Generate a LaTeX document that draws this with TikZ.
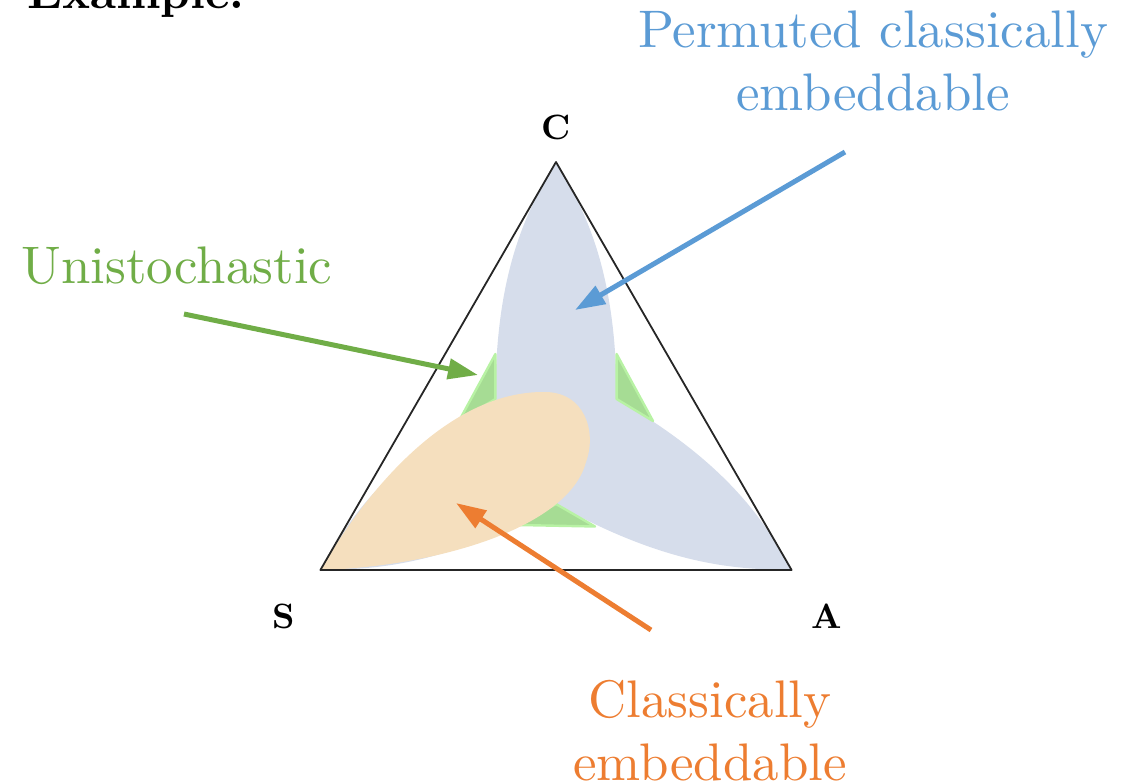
\documentclass[tikz,border=0pt]{standalone}
\usepackage{tikz}
\usetikzlibrary{arrows.meta}

\definecolor{pcblue}{RGB}{91,155,213}
\definecolor{usgreen}{RGB}{112,173,71}
\definecolor{ceorange}{RGB}{237,125,49}
\definecolor{pcfill}{RGB}{214,221,235}
\definecolor{usfill}{RGB}{166,220,148}
\definecolor{usglow}{RGB}{184,242,164}
\definecolor{cefill}{RGB}{245,223,190}

\font\lblfont="[lmroman10-regular.otf]" at 37.6pt
\font\vtxfont="[lmroman10-bold.otf]" at 25pt
\font\headfont="[lmroman10-bold.otf]" at 33pt

\tikzset{
  % --- simplex -----------------------------------------------
  simplex/.style={draw=black!85, line width=0.045cm, line join=round},
  vtx/.style={font=\vtxfont, inner sep=0pt, anchor=base},
  % --- regions -----------------------------------------------
  pcreg/.style={fill=pcfill},
  usreg/.style={fill=usfill, draw=usglow, line width=0.06cm, line join=round},
  cereg/.style={fill=cefill},
  % --- labels and pointers -----------------------------------
  setlbl/.style={font={\lblfont\baselineskip=1.55cm}, align=center,
    inner sep=0pt, anchor=base},
  setarr/.style={line width=0.125cm,
    -{Triangle[length=0.75cm, width=0.5cm]}}
}

\begin{document}
\begin{tikzpicture}[x=0.025cm, y=-0.025cm]
  \useasboundingbox (0,0) rectangle (1132,783);
  \clip (0,0) rectangle (1132,783);

  % ---------- Dinh tam giac ----------
  \coordinate (vC) at (556,162);
  \coordinate (vS) at (320.4,570);
  \coordinate (vA) at (791.6,570);

  % ---------- Permuted classically embeddable (ba canh hoa) ----------
  \fill[pcreg] (616.6,399)
    .. controls (616.6,264) and (581,204) .. (vC)
    .. controls (531,204) and (495.4,264) .. (495.4,399)
    .. controls (378.5,466.5) and (344.3,527.35) .. (vS)
    .. controls (369.3,569) and (439.1,569) .. (556,504)
    .. controls (672.9,569) and (742.7,569) .. (vA)
    .. controls (767.7,527.35) and (733.5,466.5) .. (616.6,399) -- cycle;

  % ---------- Unistochastic (ba goc lom) ----------
  \filldraw[usreg] (495.4,399) -- (495.4,354) -- (459,421) -- cycle;
  \filldraw[usreg] (616.6,399) -- (616.6,354) -- (653,421) -- cycle;
  \filldraw[usreg] (556,504) -- (595,526.5) -- (518,525) -- cycle;

  % ---------- Classically embeddable (giot nuoc) ----------
  \fill[cereg] (vS)
    .. controls (380,468) and (460,392) .. (543,392)
    .. controls (585,391) and (597,432) .. (586,462)
    .. controls (568,530) and (430,567) .. (vS) -- cycle;

  % ---------- Tam giac ----------
  \draw[simplex] (vC) -- (vS) -- (vA) -- cycle;
  \node[vtx] (lC) at (556,139) {C};
  \node[vtx] (lS) at (284,628) {S};
  \node[vtx] (lA) at (827,628) {A};

  % ---------- Nhan ----------
  \node[font=\headfont, inner sep=0pt, anchor=base west] (head)
    at (27,8) {Example:};
  \node[setlbl, text=pcblue] (pcl) at (873,110)
    {Permuted classically\\embeddable};
  \node[setlbl, text=usgreen] (usl) at (177,283) {Unistochastic};
  \node[setlbl, text=ceorange] (cel) at (710,780)
    {Classically\\embeddable};

  % ---------- Mui ten ----------
  \coordinate (pctail) at (845,152);
  \coordinate (pctip) at (575,310);
  \coordinate (ustail) at (184,314);
  \coordinate (ustip) at (478,375);
  \coordinate (cetail) at (651,630);
  \coordinate (cetip) at (456,503);
  \draw[setarr, pcblue] (pctail) -- (pctip);
  \draw[setarr, usgreen] (ustail) -- (ustip);
  \draw[setarr, ceorange] (cetail) -- (cetip);

\end{tikzpicture}
\end{document}
